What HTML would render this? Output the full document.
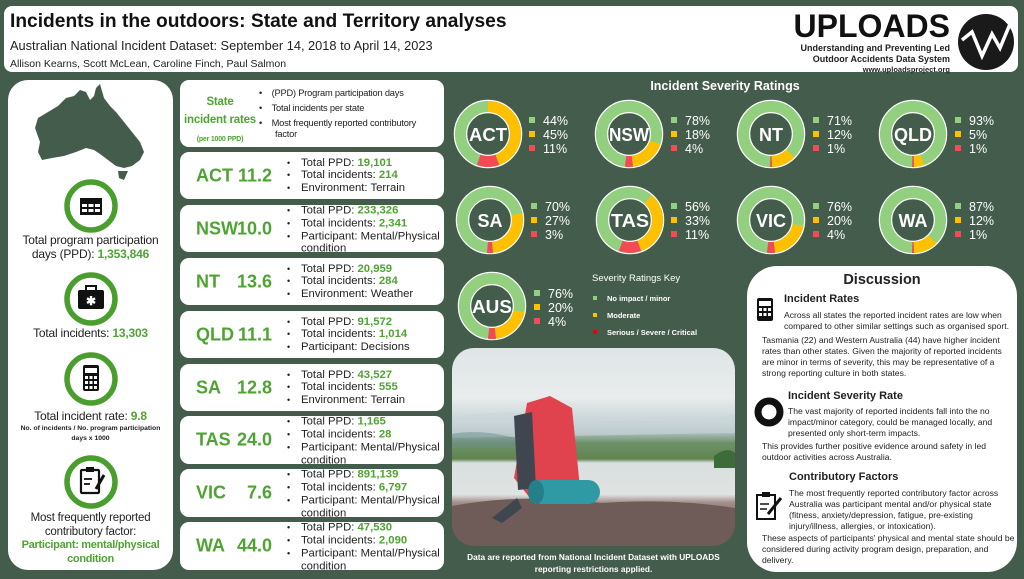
<!DOCTYPE html>
<html><head><meta charset="utf-8"><style>
*{margin:0;padding:0;box-sizing:border-box}
body{width:1024px;height:579px;background:#445c4c;font-family:"Liberation Sans",sans-serif;position:relative;overflow:hidden;color:#222}
.a{position:absolute}
.w{background:#fff;position:absolute}
.g{color:#4ea432;font-weight:bold}
.card{left:180px;width:264px;border-radius:9px;overflow:hidden}
.card .n{position:absolute;left:16px;top:50%;transform:translateY(-50%);font-size:18px;font-weight:bold;color:#4ea432}
.card .v{position:absolute;right:172px;top:50%;transform:translateY(-50%);font-size:18px;font-weight:bold;color:#4ea432}
.card ul{position:absolute;left:107px;top:50%;transform:translateY(-50%);list-style:none;font-size:11.3px;line-height:12.8px;width:155px}
.card li{position:relative;padding-left:14px}
.card li:before{content:"•";position:absolute;left:0;font-size:9px}
.ctr{text-align:center;width:165px;left:8px;position:absolute;font-size:12px;letter-spacing:-0.2px}
.pct{position:absolute;font-size:12.5px;color:#fff;line-height:14px}
.pct i{display:inline-block;width:6px;height:6px;margin-right:8px;vertical-align:2px}
.d{position:absolute;font-size:8.6px;line-height:11px;color:#222}
.dh{position:absolute;font-size:11px;font-weight:bold}
</style></head><body>
<!-- header -->
<div class="w" style="left:4px;top:6px;width:1014px;height:66px;border-radius:8px"></div>
<div class="a" style="left:10px;top:11px;font-size:19.2px;font-weight:bold;color:#111">Incidents in the outdoors: State and Territory analyses</div>
<div class="a" style="left:10px;top:38px;font-size:12.8px">Australian National Incident Dataset: September 14, 2018 to April 14, 2023</div>
<div class="a" style="left:10px;top:58px;font-size:10.5px">Allison Kearns, Scott McLean, Caroline Finch, Paul Salmon</div>
<div class="a" style="left:790px;top:9px;width:160px;text-align:right;font-size:32px;font-weight:bold;color:#111;line-height:34px">UPLOADS</div>
<div class="a" style="left:760px;top:43px;width:190px;text-align:right;font-size:9px;font-weight:bold;line-height:10.5px">Understanding and Preventing Led<br>Outdoor Accidents Data System<br><span style="font-size:7.5px">www.uploadsproject.org</span></div>
<svg class="a" style="left:956px;top:12px" width="62" height="60"><circle cx="30" cy="30" r="28" fill="#1a1a1a"/><polyline points="6,28 16,20 26,44 36,22 44,36 54,12" fill="none" stroke="#fff" stroke-width="3.5"/></svg>

<!-- left panel -->
<div class="w" style="left:8px;top:80px;width:165px;height:490px;border-radius:20px"></div>
<svg class="a" style="left:0;top:0" width="180" height="190"><path d="M100,84 L104,98 L110,106 L116,112 L124,122 L132,132 L140,142 L144,152 L140,160 L132,166 L124,168 L116,166 L108,160 L100,154 L94,150 L86,148 L76,152 L64,156 L52,158 L42,160 L38,152 L40,142 L35,128 L38,118 L48,112 L58,106 L66,98 L74,96 L80,90 L86,92 L90,100 L94,96 L96,88 Z" fill="#445c4c"/><path d="M118,171 L128,171 L124,180 L119,178 Z" fill="#445c4c"/></svg>
<svg class="a" style="left:60px;top:175px" width="62" height="62"><circle cx="31" cy="31" r="24" fill="#fff" stroke="#4a9e2e" stroke-width="5.5"/><rect x="20" y="23" width="22" height="17" fill="#111"/><g fill="#fff"><rect x="22" y="29" width="5" height="3"/><rect x="28.5" y="29" width="5" height="3"/><rect x="35" y="29" width="5" height="3"/><rect x="22" y="34" width="5" height="3"/><rect x="28.5" y="34" width="5" height="3"/><rect x="35" y="34" width="5" height="3"/></g></svg>
<div class="ctr" style="top:233px;line-height:14px">Total program participation<br>days (PPD): <span class="g">1,353,846</span></div>
<svg class="a" style="left:60px;top:268px" width="62" height="62"><circle cx="31" cy="31" r="24" fill="#fff" stroke="#4a9e2e" stroke-width="5.5"/><rect x="18" y="22" width="26" height="19" rx="2" fill="#111"/><rect x="26" y="18" width="10" height="5" fill="none" stroke="#111" stroke-width="2"/><text x="31" y="37" fill="#fff" font-size="12" text-anchor="middle" font-weight="bold">✱</text></svg>
<div class="ctr" style="top:326px">Total incidents: <span class="g">13,303</span></div>
<svg class="a" style="left:60px;top:348px" width="62" height="62"><circle cx="31" cy="31" r="24" fill="#fff" stroke="#4a9e2e" stroke-width="5.5"/><rect x="23" y="17" width="16" height="26" rx="2" fill="#111"/><rect x="25" y="20" width="12" height="5" fill="#fff"/><g fill="#fff"><rect x="25" y="28" width="3" height="3"/><rect x="29.5" y="28" width="3" height="3"/><rect x="34" y="28" width="3" height="3"/><rect x="25" y="33" width="3" height="3"/><rect x="29.5" y="33" width="3" height="3"/><rect x="34" y="33" width="3" height="3"/><rect x="25" y="38" width="3" height="3"/><rect x="29.5" y="38" width="3" height="3"/><rect x="34" y="38" width="3" height="3"/></g></svg>
<div class="ctr" style="top:409px">Total incident rate: <span class="g">9.8</span></div>
<div class="ctr" style="top:424px;font-size:6.8px;font-weight:bold;line-height:10px;letter-spacing:0">No. of incidents / No. program participation<br>days x 1000</div>
<svg class="a" style="left:60px;top:451px" width="62" height="62"><circle cx="31" cy="31" r="24" fill="#fff" stroke="#4a9e2e" stroke-width="5.5"/><rect x="21" y="19" width="18" height="23" rx="1" fill="none" stroke="#111" stroke-width="2.2"/><rect x="26" y="16" width="8" height="5" fill="#111"/><line x1="24" y1="28" x2="32" y2="28" stroke="#111" stroke-width="1.8"/><line x1="24" y1="33" x2="30" y2="33" stroke="#111" stroke-width="1.8"/><line x1="36" y1="38" x2="44" y2="24" stroke="#111" stroke-width="3"/></svg>
<div class="ctr" style="top:512px;line-height:13.5px;font-size:11.5px">Most frequently reported<br>contributory factor:<br><span class="g" style="font-size:11px;letter-spacing:-0.3px">Participant: mental/physical<br>condition</span></div>

<!-- state cards -->
<div class="w card" style="top:80px;height:67px"></div>
<div class="a" style="left:182px;top:93px;width:76px;text-align:center;color:#4ea432;font-weight:bold;font-size:11.5px;line-height:18px;letter-spacing:-0.2px">State<br>incident rates<br><span style="font-size:7px;line-height:12px">(per 1000 PPD)</span></div>
<div class="a" style="left:259px;top:86px;font-size:9.3px;line-height:15px;width:172px;letter-spacing:-0.2px">
<div>•&nbsp;&nbsp;&nbsp;&nbsp;(PPD) Program participation days</div><div>•&nbsp;&nbsp;&nbsp;&nbsp;Total incidents per state</div><div style="line-height:11px;padding-left:16px;text-indent:-16px;margin-top:2px">•&nbsp;&nbsp;&nbsp;&nbsp;Most frequently reported contributory factor</div></div>

<div class="w card" style="top:152px;height:47px"><div class="n">ACT</div><div class="v">11.2</div><ul><li>Total PPD: <b style="color:#4ea432">19,101</b></li><li>Total incidents: <b style="color:#4ea432">214</b></li><li>Environment: Terrain</li></ul></div>
<div class="w card" style="top:205px;height:47px"><div class="n">NSW</div><div class="v">10.0</div><ul style="top:53%"><li>Total PPD: <b style="color:#4ea432">233,326</b></li><li>Total incidents: <b style="color:#4ea432">2,341</b></li><li>Participant: Mental/Physical condition</li></ul></div>
<div class="w card" style="top:258px;height:47px"><div class="n">NT</div><div class="v">13.6</div><ul><li>Total PPD: <b style="color:#4ea432">20,959</b></li><li>Total incidents: <b style="color:#4ea432">284</b></li><li>Environment: Weather</li></ul></div>
<div class="w card" style="top:311px;height:47px"><div class="n">QLD</div><div class="v">11.1</div><ul><li>Total PPD: <b style="color:#4ea432">91,572</b></li><li>Total incidents: <b style="color:#4ea432">1,014</b></li><li>Participant: Decisions</li></ul></div>
<div class="w card" style="top:364px;height:47px"><div class="n">SA</div><div class="v">12.8</div><ul><li>Total PPD: <b style="color:#4ea432">43,527</b></li><li>Total incidents: <b style="color:#4ea432">555</b></li><li>Environment: Terrain</li></ul></div>
<div class="w card" style="top:416px;height:48px"><div class="n">TAS</div><div class="v">24.0</div><ul style="top:53%"><li>Total PPD: <b style="color:#4ea432">1,165</b></li><li>Total incidents: <b style="color:#4ea432">28</b></li><li>Participant: Mental/Physical condition</li></ul></div>
<div class="w card" style="top:469px;height:48px"><div class="n">VIC</div><div class="v">7.6</div><ul style="top:53%"><li>Total PPD: <b style="color:#4ea432">891,139</b></li><li>Total incidents: <b style="color:#4ea432">6,797</b></li><li>Participant: Mental/Physical condition</li></ul></div>
<div class="w card" style="top:522px;height:48px"><div class="n">WA</div><div class="v">44.0</div><ul style="top:53%"><li>Total PPD: <b style="color:#4ea432">47,530</b></li><li>Total incidents: <b style="color:#4ea432">2,090</b></li><li>Participant: Mental/Physical condition</li></ul></div>

<!-- donuts -->
<div class="a" style="left:600px;top:79px;width:250px;text-align:center;color:#fff;font-weight:bold;font-size:12.5px">Incident Severity Ratings</div>
<svg class="a" style="left:0;top:0" width="1024" height="579" font-family="Liberation Sans, sans-serif">
<defs><g id="base"><circle r="33.5" fill="none" stroke="#fff" stroke-width="1.5"/><circle r="21.5" fill="none" stroke="#fff" stroke-width="1.5"/><circle r="27.5" fill="none" stroke="#92d07f" stroke-width="11"/></g></defs>
<g font-weight="bold" fill="#fff" text-anchor="middle" font-size="18">
<g transform="translate(488,134)"><use href="#base"/><circle r="27.5" pathLength="100" fill="none" stroke="#ffc000" stroke-width="11" stroke-dasharray="45 200" stroke-dashoffset="0.5" transform="rotate(-90)"/><circle r="27.5" pathLength="100" fill="none" stroke="#f24b55" stroke-width="11" stroke-dasharray="11 200" stroke-dashoffset="-44.5" transform="rotate(-90)"/><text y="7" textLength="38" lengthAdjust="spacingAndGlyphs">ACT</text></g>
<g transform="translate(629,134)"><use href="#base"/><circle r="27.5" pathLength="100" fill="none" stroke="#ffc000" stroke-width="11" stroke-dasharray="18 200" stroke-dashoffset="-30" transform="rotate(-90)"/><circle r="27.5" pathLength="100" fill="none" stroke="#f24b55" stroke-width="11" stroke-dasharray="4 200" stroke-dashoffset="-48" transform="rotate(-90)"/><text y="7" textLength="40" lengthAdjust="spacingAndGlyphs">NSW</text></g>
<g transform="translate(771,134)"><use href="#base"/><circle r="27.5" pathLength="100" fill="none" stroke="#ffc000" stroke-width="11" stroke-dasharray="12 200" stroke-dashoffset="-37.5" transform="rotate(-90)"/><circle r="27.5" pathLength="100" fill="none" stroke="#f24b55" stroke-width="11" stroke-dasharray="1 200" stroke-dashoffset="-49.5" transform="rotate(-90)"/><text y="7">NT</text></g>
<g transform="translate(913,134)"><use href="#base"/><circle r="27.5" pathLength="100" fill="none" stroke="#ffc000" stroke-width="11" stroke-dasharray="5 200" stroke-dashoffset="-44.5" transform="rotate(-90)"/><circle r="27.5" pathLength="100" fill="none" stroke="#f24b55" stroke-width="11" stroke-dasharray="1 200" stroke-dashoffset="-49.5" transform="rotate(-90)"/><text y="7" textLength="38" lengthAdjust="spacingAndGlyphs">QLD</text></g>
<g transform="translate(490,220)"><use href="#base"/><circle r="27.5" pathLength="100" fill="none" stroke="#ffc000" stroke-width="11" stroke-dasharray="27 200" stroke-dashoffset="-21.5" transform="rotate(-90)"/><circle r="27.5" pathLength="100" fill="none" stroke="#f24b55" stroke-width="11" stroke-dasharray="3 200" stroke-dashoffset="-48.5" transform="rotate(-90)"/><text y="7">SA</text></g>
<g transform="translate(630,220)"><use href="#base"/><circle r="27.5" pathLength="100" fill="none" stroke="#ffc000" stroke-width="11" stroke-dasharray="33 200" stroke-dashoffset="-11.5" transform="rotate(-90)"/><circle r="27.5" pathLength="100" fill="none" stroke="#f24b55" stroke-width="11" stroke-dasharray="11 200" stroke-dashoffset="-44.5" transform="rotate(-90)"/><text y="7" textLength="38" lengthAdjust="spacingAndGlyphs">TAS</text></g>
<g transform="translate(771,220)"><use href="#base"/><circle r="27.5" pathLength="100" fill="none" stroke="#ffc000" stroke-width="11" stroke-dasharray="20 200" stroke-dashoffset="-28" transform="rotate(-90)"/><circle r="27.5" pathLength="100" fill="none" stroke="#f24b55" stroke-width="11" stroke-dasharray="4 200" stroke-dashoffset="-48" transform="rotate(-90)"/><text y="7">VIC</text></g>
<g transform="translate(913,220)"><use href="#base"/><circle r="27.5" pathLength="100" fill="none" stroke="#ffc000" stroke-width="11" stroke-dasharray="12 200" stroke-dashoffset="-37.5" transform="rotate(-90)"/><circle r="27.5" pathLength="100" fill="none" stroke="#f24b55" stroke-width="11" stroke-dasharray="1 200" stroke-dashoffset="-49.5" transform="rotate(-90)"/><text y="7">WA</text></g>
<g transform="translate(492,306)"><use href="#base"/><circle r="27.5" pathLength="100" fill="none" stroke="#ffc000" stroke-width="11" stroke-dasharray="20 200" stroke-dashoffset="-28" transform="rotate(-90)"/><circle r="27.5" pathLength="100" fill="none" stroke="#f24b55" stroke-width="11" stroke-dasharray="4 200" stroke-dashoffset="-48" transform="rotate(-90)"/><text y="7" textLength="40" lengthAdjust="spacingAndGlyphs">AUS</text></g>
</g>
</svg>
<div class="pct" style="left:529px;top:114px"><i style="background:#92d07f"></i>44%<br><i style="background:#ffc000"></i>45%<br><i style="background:#f24b55"></i>11%</div>
<div class="pct" style="left:671px;top:114px"><i style="background:#92d07f"></i>78%<br><i style="background:#ffc000"></i>18%<br><i style="background:#f24b55"></i>4%</div>
<div class="pct" style="left:813px;top:114px"><i style="background:#92d07f"></i>71%<br><i style="background:#ffc000"></i>12%<br><i style="background:#f24b55"></i>1%</div>
<div class="pct" style="left:955px;top:114px"><i style="background:#92d07f"></i>93%<br><i style="background:#ffc000"></i>5%<br><i style="background:#f24b55"></i>1%</div>
<div class="pct" style="left:531px;top:200px"><i style="background:#92d07f"></i>70%<br><i style="background:#ffc000"></i>27%<br><i style="background:#f24b55"></i>3%</div>
<div class="pct" style="left:671px;top:200px"><i style="background:#92d07f"></i>56%<br><i style="background:#ffc000"></i>33%<br><i style="background:#f24b55"></i>11%</div>
<div class="pct" style="left:813px;top:200px"><i style="background:#92d07f"></i>76%<br><i style="background:#ffc000"></i>20%<br><i style="background:#f24b55"></i>4%</div>
<div class="pct" style="left:955px;top:200px"><i style="background:#92d07f"></i>87%<br><i style="background:#ffc000"></i>12%<br><i style="background:#f24b55"></i>1%</div>
<div class="pct" style="left:534px;top:287px"><i style="background:#92d07f"></i>76%<br><i style="background:#ffc000"></i>20%<br><i style="background:#f24b55"></i>4%</div>

<div class="a" style="left:592px;top:273px;color:#fff;font-size:9.5px">Severity Ratings Key</div>
<div class="a" style="left:593px;top:290px;color:#fff;font-size:7.5px;font-weight:bold;line-height:17px">
<div><i style="display:inline-block;width:4px;height:4px;background:#92d07f;margin-right:10px;vertical-align:1px"></i>No impact / minor</div>
<div><i style="display:inline-block;width:4px;height:4px;background:#ffc000;margin-right:10px;vertical-align:1px"></i>Moderate</div>
<div><i style="display:inline-block;width:4px;height:4px;background:#e00;margin-right:10px;vertical-align:1px"></i>Serious / Severe / Critical</div></div>

<!-- photo -->
<div class="a" style="left:452px;top:348px;width:283px;height:198px;border-radius:22px;overflow:hidden;background:linear-gradient(#dfe5e7 0%,#e8ecec 25%,#c6d3d6 38%,#a9bcbc 43%,#6f9168 48%,#5f8450 56%,#d9dfdf 58%,#dfe3e2 74%,#a38e8a 78%,#7a6562 88%,#5e4d4b 100%)">
<svg width="283" height="198"><path d="M0,70 Q60,58 120,72 Q200,80 283,66 L283,85 L0,90 Z" fill="#c9d6d8" opacity=".6"/><path d="M0,86 Q30,80 70,92 L70,100 L0,100 Z" fill="#6d9090" opacity=".5"/>
<path d="M262,108 Q275,98 283,105 L283,120 L262,120 Z" fill="#3e6b3a"/>
<path d="M0,158 Q70,145 150,155 Q220,150 283,160 L283,198 L0,198 Z" fill="#6f5b58"/>
<path d="M75,55 L98,48 L120,60 L128,140 L110,150 L78,150 L62,130 Z" fill="#e0434d"/><path d="M62,68 L80,64 L84,140 L66,142 Z" fill="#3f4650"/><path d="M40,170 L65,150 L70,160 L50,175 Z" fill="#3f4650"/><rect x="78" y="132" width="70" height="24" rx="12" fill="#2f9aa3"/><ellipse cx="84" cy="144" rx="8" ry="12" fill="#257f88"/></svg></div>
<div class="a" style="left:452px;top:551px;width:283px;text-align:center;color:#fff;font-size:8.3px;font-weight:bold;line-height:12px">Data are reported from National Incident Dataset with UPLOADS<br>reporting restrictions applied.</div>

<!-- discussion -->
<div class="w" style="left:747px;top:266px;width:270px;height:306px;border-radius:30px"></div>
<div class="a" style="left:747px;top:272px;width:270px;text-align:center;font-size:14.5px;font-weight:bold">Discussion</div>
<svg class="a" style="left:756px;top:297px" width="20" height="26"><rect x="1" y="1" width="16" height="23" rx="2" fill="#111"/><rect x="3" y="4" width="12" height="5" fill="#fff"/><g fill="#fff"><rect x="3" y="11" width="3" height="3"/><rect x="7.5" y="11" width="3" height="3"/><rect x="12" y="11" width="3" height="3"/><rect x="3" y="16" width="3" height="3"/><rect x="7.5" y="16" width="3" height="3"/><rect x="12" y="16" width="3" height="3"/></g></svg>
<div class="dh" style="left:784px;top:293px">Incident Rates</div>
<div class="d" style="left:784px;top:310px;width:225px">Across all states the reported incident rates are low when compared to other similar settings such as organised sport.</div>
<div class="d" style="left:762px;top:335px;width:250px">Tasmania (22) and Western Australia (44) have higher incident rates than other states. Given the majority of reported incidents are minor in terms of severity, this may be representative of a strong reporting culture in both states.</div>
<svg class="a" style="left:754px;top:397px" width="30" height="30"><circle cx="15" cy="15" r="11" fill="none" stroke="#111" stroke-width="7"/></svg>
<div class="dh" style="left:788px;top:390px">Incident Severity Rate</div>
<div class="d" style="left:788px;top:406px;width:225px">The vast majority of reported incidents fall into the no impact/minor category, could be managed locally, and presented only short-term impacts.</div>
<div class="d" style="left:762px;top:441px;width:250px">This provides further positive evidence around safety in led outdoor activities across Australia.</div>
<svg class="a" style="left:754px;top:490px" width="30" height="32"><rect x="3" y="5" width="18" height="24" fill="none" stroke="#111" stroke-width="2"/><rect x="8" y="2" width="8" height="5" fill="#111"/><line x1="6" y1="14" x2="15" y2="14" stroke="#111" stroke-width="1.5"/><line x1="6" y1="19" x2="13" y2="19" stroke="#111" stroke-width="1.5"/><line x1="14" y1="24" x2="27" y2="8" stroke="#111" stroke-width="3"/></svg>
<div class="dh" style="left:789px;top:471px">Contributory Factors</div>
<div class="d" style="left:789px;top:488px;width:225px">The most frequently reported contributory factor across Australia was participant mental and/or physical state (fitness, anxiety/depression, fatigue, pre-existing injury/illness, allergies, or intoxication).</div>
<div class="d" style="left:762px;top:533px;width:254px">These aspects of participants' physical and mental state should be considered during activity program design, preparation, and delivery.</div>
</body></html>
